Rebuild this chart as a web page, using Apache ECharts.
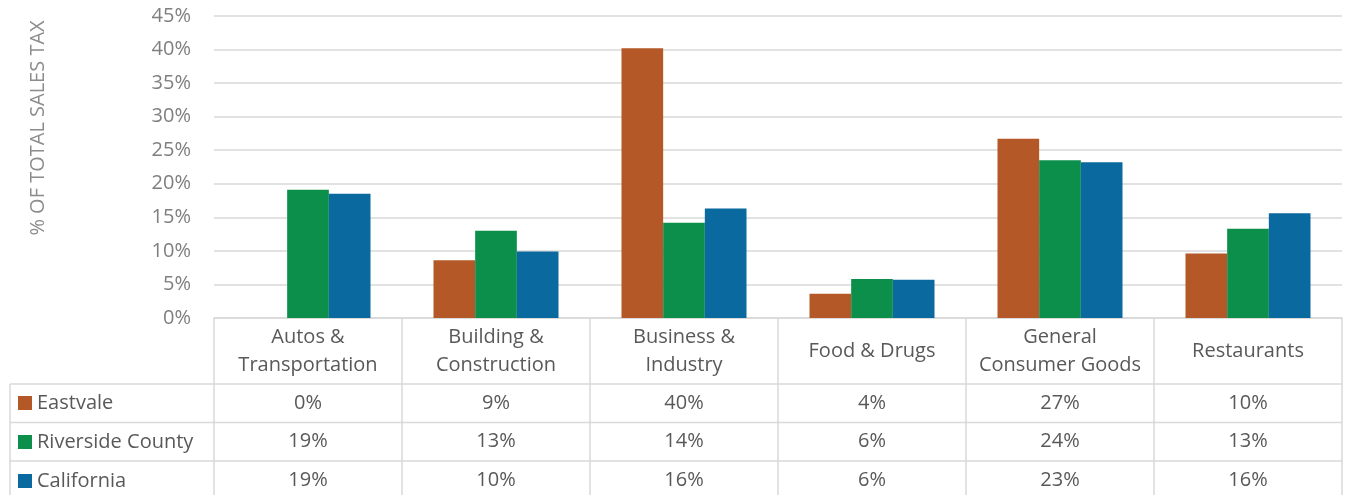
<!DOCTYPE html>
<html>
<head>
<meta charset="utf-8">
<script src="https://cdn.jsdelivr.net/npm/echarts@6/dist/echarts.min.js"></script>
<style>
html,body{margin:0;padding:0;background:#fff;}
#c{width:1349px;height:495px;}
</style>
</head>
<body>
<div id="c"></div>
<script>
const categories = ["Autos & Transportation","Building & Construction","Business & Industry","Food & Drugs","General Consumer Goods","Restaurants"];
const categoryLabels = ["Autos &\nTransportation","Building &\nConstruction","Business &\nIndustry","Food & Drugs","General\nConsumer Goods","Restaurants"];
const seriesNames = ["Eastvale","Riverside County","California"];
const eastvale = [0, 8.6, 40.2, 3.6, 26.7, 9.6];
const riverside = [19.1, 13.0, 14.2, 5.8, 23.5, 13.3];
const california = [18.5, 9.9, 16.3, 5.7, 23.2, 15.6];
const yTicks = {min: 0, max: 45, interval: 5};
const yTitle = "% OF TOTAL SALES TAX";

const colors = ["#B35826", "#0C8F4A", "#0A699E"];
const FONT = "'Open Sans', 'Noto Sans', sans-serif";
const GRID = {left: 214, right: 7, top: 16, bottom: 177};
const tableRows = [eastvale, riverside, california];
const lineColor = "#d9d9d9";

const chart = echarts.init(document.getElementById('c'));
chart.setOption({
  animation: false,
  textStyle: {fontFamily: FONT},
  color: colors,
  grid: GRID,
  legend: {
    orient: 'vertical', left: 18, top: 393, height: 140, padding: 0,
    itemWidth: 14, itemHeight: 14, itemGap: 19,
    icon: 'rect', selectedMode: false,
    textStyle: {fontSize: 20, color: '#595959', fontFamily: FONT},
    data: seriesNames
  },
  xAxis: {
    type: 'category',
    data: categories,
    axisLine: {show: true, lineStyle: {color: lineColor, width: 1.5}},
    axisTick: {show: true, alignWithLabel: false, length: 185, lineStyle: {color: lineColor, width: 1.5}},
    axisLabel: {
      interval: 0, fontSize: 20, color: '#595959', lineHeight: 28,
      verticalAlign: 'middle', margin: 33,
      formatter: function (v, i) { return categoryLabels[i]; }
    }
  },
  yAxis: {
    type: 'value',
    min: yTicks.min, max: yTicks.max, interval: yTicks.interval,
    axisLabel: {formatter: '{value}%', fontSize: 20, color: '#7f7f7f', margin: 23},
    axisLine: {show: false}, axisTick: {show: false},
    splitLine: {lineStyle: {color: lineColor, width: 1.5}}
  },
  series: [
    {name: seriesNames[0], type: 'bar', data: eastvale, barGap: '0%', barCategoryGap: '33.5%'},
    {name: seriesNames[1], type: 'bar', data: riverside, barGap: '0%', barCategoryGap: '33.5%'},
    {name: seriesNames[2], type: 'bar', data: california, barGap: '0%', barCategoryGap: '33.5%'}
  ]
});

// Data table (text + horizontal rules), placed from the axis' own scale
const graphics = [];
const x0 = chart.convertToPixel({xAxisIndex: 0}, 0);
const x1 = chart.convertToPixel({xAxisIndex: 0}, 1);
const colW = x1 - x0;
const tableLeft = 10;
const tableRight = x0 - colW / 2 + colW * categories.length;
const rowTop = 384, rowH = 38.5;
for (let r = 0; r <= tableRows.length; r++) {
  const y = rowTop + r * rowH;
  graphics.push({type: 'line', shape: {x1: tableLeft, y1: y, x2: tableRight, y2: y},
    style: {stroke: lineColor, lineWidth: 1.5}, silent: true});
}
graphics.push({type: 'line', shape: {x1: tableLeft, y1: rowTop, x2: tableLeft, y2: 495},
  style: {stroke: lineColor, lineWidth: 1.5}, silent: true});
tableRows.forEach((row, r) => {
  row.forEach((v, i) => {
    const cx = chart.convertToPixel({xAxisIndex: 0}, i);
    graphics.push({type: 'text', x: cx, y: rowTop + r * rowH + rowH / 2,
      style: {text: Math.round(v) + '%', fill: '#595959', font: '20px ' + FONT,
        textAlign: 'center', textVerticalAlign: 'middle'}, silent: true});
  });
});
graphics.push({type: 'text', x: 38, y: 128, rotation: Math.PI / 2,
  style: {text: yTitle, fill: '#8c8c8c', font: '20px ' + FONT, textAlign: 'center', textVerticalAlign: 'middle'},
  silent: true});
chart.setOption({graphic: graphics});
</script>
</body>
</html>
